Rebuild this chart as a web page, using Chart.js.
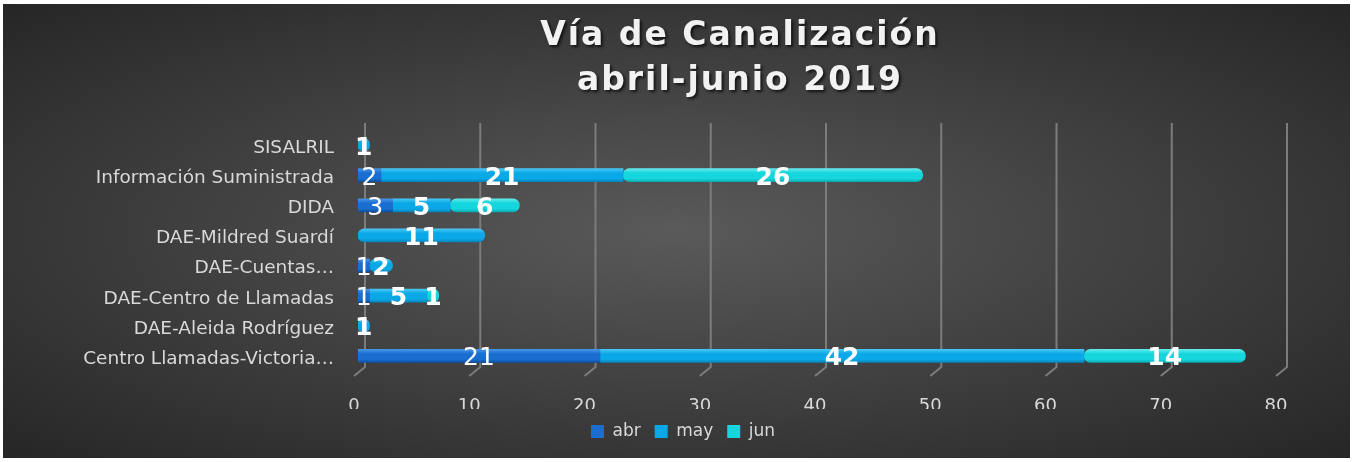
<!DOCTYPE html>
<html>
<head>
<meta charset="utf-8">
<script src="https://cdn.jsdelivr.net/npm/chart.js@4.4.1/dist/chart.umd.min.js"></script>
<style>
    html, body { margin: 0; padding: 0; background: #fff; }
    #wrap {
        position: absolute; left: 3px; top: 4px; width: 1347px; height: 454px;
        background: radial-gradient(ellipse farthest-corner at 50% 50%, #5a5a5a 0%, #262626 100%);
    }
</style>
</head>
<body>
<div id="wrap"><canvas id="graficoVia"></canvas></div>
<script>
// Datos
const categorias = ['SISALRIL', 'Información Suministrada', 'DIDA', 'DAE-Mildred Suardí',
    'DAE-Cuentas…', 'DAE-Centro de Llamadas', 'DAE-Aleida Rodríguez', 'Centro Llamadas-Victoria…'];
const abr = [null, 2, 3, null, 1, 1, null, 21];
const may = [1, 21, 5, 11, 2, 5, 1, 42];
const jun = [null, 26, 6, null, null, 1, null, 14];
const meses = ['abr', 'may', 'jun'];
const tituloLineas = ['Vía de Canalización', 'abril-junio 2019'];

const FUENTE = "'DejaVu Sans', sans-serif";
const coloresBase = ['#1a6ed0', '#0aa8e6', '#14d6dc'];

// Degradado vertical tipo cilindro para cada barra
function cilindro(claro, base, oscuro) {
    return function (ctx) {
        const chart = ctx.chart;
        if (!chart.chartArea || ctx.type !== 'data') return base;
        const y = chart.scales.y.getPixelForValue(ctx.dataIndex);
        const g = chart.ctx.createLinearGradient(0, y - 7, 0, y + 7);
        g.addColorStop(0, claro);
        g.addColorStop(0.35, base);
        g.addColorStop(0.75, base);
        g.addColorStop(1, oscuro);
        return g;
    };
}

// Título centrado con espaciado
const tituloPlugin = {
    id: 'tituloVia',
    afterDraw(chart) {
        const c = chart.ctx;
        c.save();
        c.font = "bold 33px " + FUENTE;
        c.letterSpacing = '2px';
        c.textAlign = 'center';
        c.textBaseline = 'alphabetic';
        c.fillStyle = '#f2f2f2';
        c.shadowColor = 'rgba(0,0,0,0.7)';
        c.shadowOffsetX = 2;
        c.shadowOffsetY = 2;
        c.shadowBlur = 3;
        c.fillText(tituloLineas[0], 737, 41);
        c.fillText(tituloLineas[1], 737, 86);
        c.restore();
    }
};

// Cuadrícula con pared del fondo desplazada y diagonal al pie (efecto 3D)
const cuadriculaPlugin = {
    id: 'cuadricula',
    beforeDatasetsDraw(chart) {
        const c = chart.ctx, x = chart.scales.x, a = chart.chartArea;
        c.save();
        c.strokeStyle = '#7c7c7c';
        c.lineWidth = 2;
        x.ticks.forEach((t, i) => {
            const px = x.getPixelForTick(i) + 7;
            c.beginPath();
            c.moveTo(px, a.top - 7);
            c.lineTo(px, a.bottom - 4);
            c.lineTo(px - 11, a.bottom + 5);
            c.stroke();
        });
        c.restore();
    }
};

// La leyenda se centra en todo el ancho del lienzo
const leyendaPlugin = {
    id: 'leyendaCentro',
    afterLayout(chart) {
        const l = chart.legend;
        if (!l) return;
        l.left = 0;
        l.right = 1360;
        l.width = 1360;
    }
};

// Etiquetas de datos en el centro de cada segmento
const etiquetasPlugin = {
    id: 'etiquetas',
    afterDatasetsDraw(chart) {
        const c = chart.ctx;
        c.save();
        c.fillStyle = '#ffffff';
        c.textAlign = 'center';
        c.textBaseline = 'middle';
        chart.data.datasets.forEach((ds, di) => {
            const meta = chart.getDatasetMeta(di);
            c.font = (di === 0 ? '' : 'bold ') + '25px ' + FUENTE;
            meta.data.forEach((el, i) => {
                const v = ds.data[i];
                if (v === null || v === undefined) return;
                c.fillText(String(v), (el.x + el.base) / 2, el.y + 3);
            });
        });
        c.restore();
    }
};

const ctxVia = document.getElementById('graficoVia').getContext('2d');
const graficoVia = new Chart(ctxVia, {
    type: 'bar',
    data: {
        labels: categorias,
        datasets: [
            { label: meses[0], data: abr, backgroundColor: cilindro('#4a98ea', coloresBase[0], '#0c4a98') },
            { label: meses[1], data: may, backgroundColor: cilindro('#4ccaf6', coloresBase[1], '#067fb5') },
            { label: meses[2], data: jun, backgroundColor: cilindro('#6aecef', coloresBase[2], '#0aa4ab') }
        ]
    },
    options: {
        indexAxis: 'y',
        responsive: true,
        maintainAspectRatio: false,
        animation: false,
        barThickness: 13,
        borderRadius: 7,
        borderSkipped: false,
        layout: { padding: { top: 126, right: 70, left: 0, bottom: 8 } },
        scales: {
            x: {
                stacked: true,
                min: 0,
                max: 80,
                afterFit(scale) { scale.height = 38; },
                ticks: { stepSize: 10, color: '#d9d9d9', font: { family: FUENTE, size: 18 }, labelOffset: -4, padding: 25 },
                grid: { display: false, drawTicks: false },
                border: { display: false }
            },
            y: {
                stacked: true,
                afterFit(scale) { scale.width = 355; },
                ticks: { color: '#d9d9d9', font: { family: FUENTE, size: 18.5 }, padding: 24, labelOffset: 3 },
                grid: { display: false, drawTicks: false },
                border: { display: false }
            }
        },
        plugins: {
            legend: {
                position: 'bottom',
                labels: {
                    color: '#d9d9d9', font: { family: FUENTE, size: 17 }, boxWidth: 13, boxHeight: 13, padding: 14,
                    generateLabels(chart) {
                        const items = Chart.defaults.plugins.legend.labels.generateLabels(chart);
                        items.forEach((it, i) => { it.fillStyle = coloresBase[i]; it.strokeStyle = coloresBase[i]; it.lineWidth = 0; });
                        return items;
                    }
                }
            },
            tooltip: { enabled: false },
            title: { display: false }
        }
    },
    plugins: [tituloPlugin, cuadriculaPlugin, leyendaPlugin, etiquetasPlugin]
});
</script>
</body>
</html>
